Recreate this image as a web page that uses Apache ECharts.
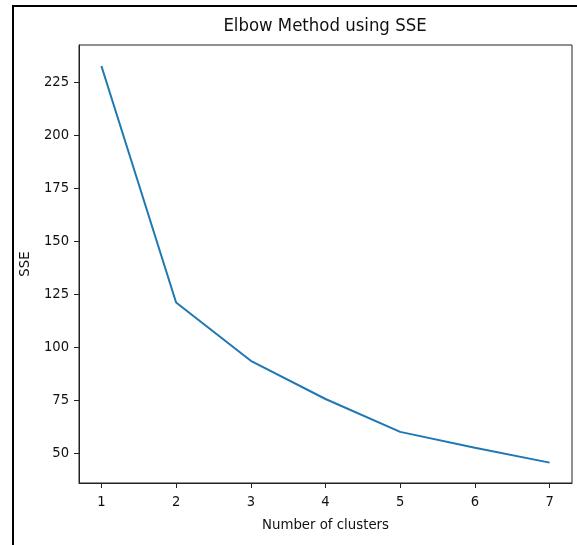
<!DOCTYPE html>
<html>
<head>
<meta charset="utf-8">
<script src="https://cdn.jsdelivr.net/npm/echarts@6/dist/echarts.min.js"></script>
<style>
    html, body { margin: 0; padding: 0; background: #fff; }
    #chart { width: 577px; height: 545px; }
</style>
</head>
<body>
<div id="chart"></div>
<script>
    // k values and the SSE
    var clusters = [1, 2, 3, 4, 5, 6, 7];
    var sse = [232.5, 121, 93.5, 75.5, 60, 52.5, 45.5];
    var xTicks = [1, 2, 3, 4, 5, 6, 7];
    var yTicks = [50, 75, 100, 125, 150, 175, 200, 225];

    var font = '"DejaVu Sans Condensed", "DejaVu Sans"';
    var points = clusters.map(function (k, i) { return [k, sse[i]]; });

    var chart = echarts.init(document.getElementById('chart'));

    var option = {
        animation: false,
        backgroundColor: '#fff',
        title: {
            text: 'Elbow Method using SSE',
            left: 325,
            top: 17,
            textAlign: 'center',
            padding: 0,
            textStyle: {fontFamily: font, fontSize: 18.4, fontWeight: 'normal', color: '#111'}
        },
        grid: {
            left: 79,
            top: 45,
            right: 5,
            bottom: 62,
            show: true,
            borderColor: '#222',
            borderWidth: 1
        },
        xAxis: {
            type: 'value',
            min: 0.7,
            max: 7.3,
            name: 'Number of clusters',
            nameLocation: 'middle',
            nameGap: 35,
            nameTextStyle: {fontFamily: font, fontSize: 14.8, color: '#111'},
            axisLine: {lineStyle: {color: '#222', width: 1}},
            axisTick: {show: true, length: 5, customValues: xTicks, lineStyle: {color: '#222'}},
            axisLabel: {margin: 12, customValues: xTicks, fontFamily: font, fontSize: 14.6, color: '#111'},
            splitLine: {show: false}
        },
        yAxis: {
            type: 'value',
            min: 35.9,
            max: 242.4,
            name: 'SSE',
            nameLocation: 'middle',
            nameRotate: 90,
            nameGap: 37,
            nameTextStyle: {fontFamily: font, fontSize: 14.8, color: '#111'},
            axisLine: {show: true, lineStyle: {color: '#222', width: 1}},
            axisTick: {show: true, length: 5, customValues: yTicks, lineStyle: {color: '#222'}},
            axisLabel: {margin: 10, customValues: yTicks, fontFamily: font, fontSize: 14.6, color: '#111'},
            splitLine: {show: false}
        },
        graphic: [
            {
                // the black frame on the left and top of the figure
                type: 'polyline',
                shape: {points: [[13, 545], [13, 6], [577, 6]]},
                style: {stroke: '#000', lineWidth: 2, fill: null}
            }
        ],
        series: [
            {
                type: 'line',
                data: points,
                showSymbol: false,
                lineStyle: {color: '#1f77b4', width: 2}
            }
        ]
    };

    chart.setOption(option);
</script>
</body>
</html>
